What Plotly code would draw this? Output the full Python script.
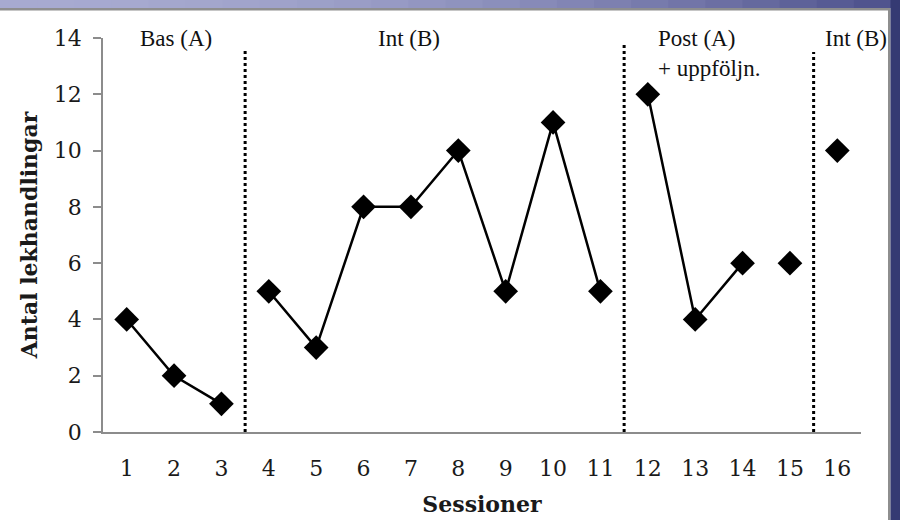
import plotly.graph_objects as go

# ---- data ----
sessions = list(range(1, 17))
values = [4, 2, 1, 5, 3, 8, 8, 10, 5, 11, 5, 12, 4, 6, 6, 10]
# sessions connected by a line (each list is one connected run)
segments = [[1, 2, 3], [4, 5, 6, 7, 8, 9, 10, 11], [12, 13, 14], [15], [16]]
phase_boundaries = [3.5, 11.5, 15.5]
boundary_tops = [13.55, 13.75, 13.5]
phase_labels = ["Bas (A)", "Int (B)", "Post (A)<br>+ uppföljn.", "Int (B)"]
phase_label_x = [2.05, 6.95, 13.3, 16.4]
y_ticks = [0, 2, 4, 6, 8, 10, 12, 14]
x_title = "Sessioner"
y_title = "Antal lekhandlingar"

W, H = 900, 520
ML, MR, MT, MB = 103, 39, 38, 88
PW, PH = W - ML - MR, H - MT - MB

SERIF = "Liberation Serif, Times New Roman, Times, serif"
TICKF = "DejaVu Serif, Cambria, serif"


def px_x(px):
    return (px - ML) / PW


def px_y(py):
    return (H - MB - py) / PH


fig = go.Figure()

for seg in segments:
    xs = [s for s in seg]
    ys = [values[sessions.index(s)] for s in seg]
    fig.add_trace(go.Scatter(
        x=xs, y=ys, mode="lines+markers",
        line=dict(color="black", width=2.5),
        marker=dict(symbol="diamond", size=19, color="black"),
        showlegend=False, cliponaxis=False, hoverinfo="x+y"))

shapes = []
for xb, top in zip(phase_boundaries, boundary_tops):
    shapes.append(dict(type="line", xref="x", yref="y", x0=xb, x1=xb, y0=0, y1=top,
                       line=dict(color="black", width=3, dash="dot"), layer="above"))

# frame: top band with gradient, right navy band, grey inner rules
n = 24
c0 = (0xa7, 0xaa, 0xd0)
c1 = (0x50, 0x54, 0x8e)
for i in range(n):
    t = i / (n - 1)
    t2 = t ** 2.0
    col = tuple(int(round(c0[k] + (c1[k] - c0[k]) * t2)) for k in range(3))
    x0 = 891 * i / n
    x1 = 891 * (i + 1) / n + 1
    shapes.append(dict(type="rect", xref="paper", yref="paper",
                       x0=px_x(x0), x1=px_x(x1), y0=px_y(8), y1=px_y(-4),
                       fillcolor="rgb(%d,%d,%d)" % col, line=dict(width=0), layer="below"))
shapes.append(dict(type="rect", xref="paper", yref="paper",
                   x0=px_x(0), x1=px_x(889), y0=px_y(10.5), y1=px_y(8),
                   fillcolor="#8e8e8e", line=dict(width=0), layer="below"))
shapes.append(dict(type="rect", xref="paper", yref="paper",
                   x0=px_x(888), x1=px_x(890.5), y0=px_y(H + 5), y1=px_y(8),
                   fillcolor="#8e8e8e", line=dict(width=0), layer="below"))
shapes.append(dict(type="rect", xref="paper", yref="paper",
                   x0=px_x(890.5), x1=px_x(W + 10), y0=px_y(H + 5), y1=px_y(-4),
                   fillcolor="#353a73", line=dict(width=0), layer="below"))

annotations = []
for lab, lx in zip(phase_labels, phase_label_x):
    annotations.append(dict(x=lx, y=px_y(24), xref="x", yref="paper", text=lab,
                            showarrow=False, xanchor="center", yanchor="top", align="left",
                            font=dict(family=SERIF, size=23, color="#111")))

fig.update_layout(
    width=W, height=H,
    margin=dict(l=ML, r=MR, t=MT, b=MB, autoexpand=False),
    paper_bgcolor="white", plot_bgcolor="white",
    shapes=shapes, annotations=annotations,
    xaxis=dict(range=[0.5, 16.5], tickvals=sessions, ticktext=[str(s) for s in sessions],
               automargin=False,
               showgrid=False, zeroline=False, showline=True, linecolor="#8c8c8c", linewidth=1.5,
               ticks="", ticklabelstandoff=16,
               tickfont=dict(family=TICKF, size=22, color="#1a1a1a"),
               title=dict(text="<b>%s</b>" % x_title, standoff=16,
                          font=dict(family=TICKF, size=22, color="#1a1a1a"))),
    yaxis=dict(range=[0, 14], tickvals=y_ticks, showgrid=False, zeroline=False,
               automargin=False,
               showline=True, linecolor="#8c8c8c", linewidth=1.5,
               ticks="outside", ticklen=8, tickcolor="#8c8c8c", tickwidth=1.5,
               ticklabelstandoff=7,
               tickfont=dict(family=TICKF, size=22, color="#1a1a1a"),
               title=dict(text="<b>%s</b>" % y_title, standoff=10,
                          font=dict(family=TICKF, size=22, color="#1a1a1a"))),
)

fig.write_html("out.html", config={"displayModeBar": False},
               post_script="document.body.style.margin='0px';document.body.style.overflow='hidden';")
